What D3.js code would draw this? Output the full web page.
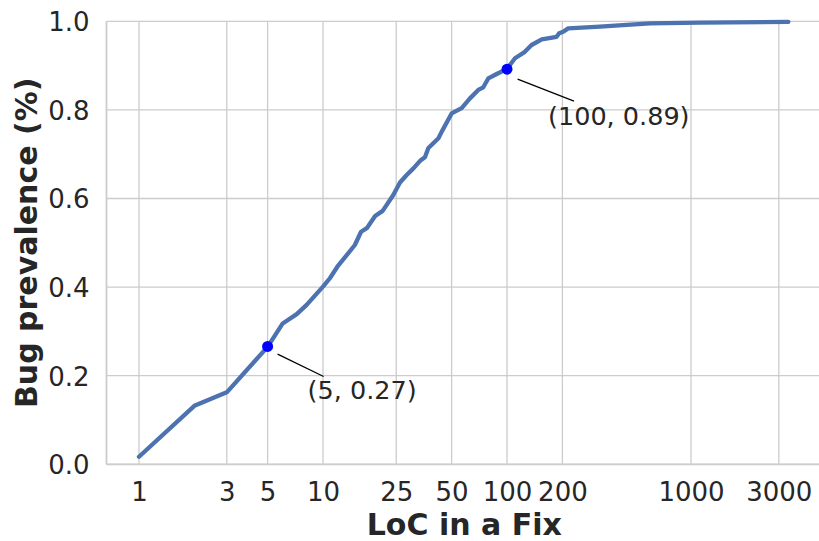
<!DOCTYPE html>
<html>
<head>
<meta charset="utf-8">
<script src="https://cdn.jsdelivr.net/npm/d3@7"></script>
<style>
  html, body { margin: 0; padding: 0; background: #ffffff; }
  svg { display: block; }
  text { font-family: "DejaVu Sans", sans-serif; fill: #262626; }
</style>
</head>
<body>
<svg id="chart" width="819" height="541"></svg>
<script>
// ---- data ----
const locValues = [1, 2, 3, 5, 6.04, 7.2, 8.15, 10, 10.9, 11.97, 14.9, 16.1, 17.3, 19.2, 21.1, 24.1, 26.2, 28.5, 31, 33.7, 35.8, 37.4, 42.4, 44.2, 50, 56.7, 62.9, 69.8, 74.3, 79.1, 87.9, 99.6, 110.5, 117.7, 125, 136, 154.5, 186, 192, 202, 215, 320, 447, 599, 1119, 3380];
const prevalence = [0.017, 0.132, 0.1625, 0.265, 0.318, 0.339, 0.36, 0.401, 0.42, 0.446, 0.495, 0.525, 0.533, 0.5605, 0.572, 0.608, 0.636, 0.653, 0.668, 0.685, 0.693, 0.714, 0.736, 0.751, 0.792, 0.804, 0.826, 0.845, 0.851, 0.871, 0.881, 0.892, 0.9165, 0.924, 0.931, 0.9465, 0.959, 0.965, 0.973, 0.9765, 0.984, 0.988, 0.992, 0.9955, 0.997, 0.9985];
const xTicks = [1, 3, 5, 10, 25, 50, 100, 200, 1000, 3000];
const yTicks = [0, 0.2, 0.4, 0.6, 0.8, 1.0];
const highlightX = [5, 100];
const highlightY = [0.266, 0.892];
const highlightLabels = ["(5, 0.27)", "(100, 0.89)"];

// ---- layout ----
const svg = d3.select("#chart");
const mLeft = 106.5, mRight = 822, mTop = 21.3, mBottom = 464.3;
const xDomain = [0.666, 5150];
const x = d3.scaleLog().domain(xDomain).range([mLeft, mRight]);
const y = d3.scaleLinear().domain([0, 1]).range([mBottom, mTop]);
const gridColor = "#cccccc";
const tickFont = 26;

// grid
const grid = svg.append("g");
grid.selectAll(".vg").data(xTicks).enter().append("line")
  .attr("x1", d => x(d)).attr("x2", d => x(d))
  .attr("y1", mTop).attr("y2", mBottom)
  .attr("stroke", gridColor).attr("stroke-width", 1.3);
grid.selectAll(".hg").data(yTicks).enter().append("line")
  .attr("x1", mLeft).attr("x2", mRight)
  .attr("y1", d => y(d)).attr("y2", d => y(d))
  .attr("stroke", gridColor).attr("stroke-width", 1.3);

// spines (left, bottom)
svg.append("line").attr("x1", mLeft).attr("x2", mLeft).attr("y1", mTop).attr("y2", mBottom)
  .attr("stroke", gridColor).attr("stroke-width", 1.8);
svg.append("line").attr("x1", mLeft).attr("x2", mRight).attr("y1", mBottom).attr("y2", mBottom)
  .attr("stroke", gridColor).attr("stroke-width", 1.8);

// axes tick labels via d3 axes
const xAxis = d3.axisBottom(x).tickValues(xTicks).tickFormat(d3.format("d")).tickSize(0).tickPadding(0);
const gx = svg.append("g").attr("transform", `translate(0,${mBottom})`).call(xAxis);
gx.select(".domain").remove();
gx.selectAll("text")
  .attr("font-family", "DejaVu Sans").attr("font-size", tickFont)
  .attr("fill", "#262626").attr("dy", null).attr("y", 36.5);

const yAxis = d3.axisLeft(y).tickValues(yTicks).tickFormat(d3.format(".1f")).tickSize(0).tickPadding(0);
const gy = svg.append("g").attr("transform", `translate(${mLeft},0)`).call(yAxis);
gy.select(".domain").remove();
gy.selectAll("text")
  .attr("font-family", "DejaVu Sans").attr("font-size", tickFont)
  .attr("fill", "#262626").attr("x", -17).attr("dy", "0.36em");

// line
const data = locValues.map((v, i) => ({ x: v, y: prevalence[i] }));
const line = d3.line().x(d => x(d.x)).y(d => y(d.y));
svg.append("path").datum(data)
  .attr("d", line)
  .attr("fill", "none")
  .attr("stroke", "#4c72b0")
  .attr("stroke-width", 4.3)
  .attr("stroke-linejoin", "round")
  .attr("stroke-linecap", "round");

// highlight points + annotations
const annOffsets = [
  { ls: [10, 7.6], le: [56, 30], t: [40, 53] },
  { ls: [10.6, 10], le: [67, 32], t: [41, 56] }
];
highlightX.forEach((hx, i) => {
  const px = x(hx), py = y(highlightY[i]);
  const o = annOffsets[i];
  svg.append("line")
    .attr("x1", px + o.ls[0]).attr("y1", py + o.ls[1])
    .attr("x2", px + o.le[0]).attr("y2", py + o.le[1])
    .attr("stroke", "#000000").attr("stroke-width", 1.3);
  svg.append("circle")
    .attr("cx", px).attr("cy", py).attr("r", 5.5)
    .attr("fill", "#0000ff");
  svg.append("text")
    .attr("x", px + o.t[0]).attr("y", py + o.t[1])
    .attr("font-size", 25.5)
    .text(highlightLabels[i]);
});

// axis labels
svg.append("text")
  .attr("x", (mLeft + mRight) / 2).attr("y", 535)
  .attr("text-anchor", "middle")
  .attr("font-size", 30).attr("font-weight", "bold")
  .text("LoC in a Fix");
svg.append("text")
  .attr("transform", `translate(37,${(mTop + mBottom) / 2}) rotate(-90)`)
  .attr("text-anchor", "middle")
  .attr("font-size", 30).attr("font-weight", "bold")
  .text("Bug prevalence (%)");
</script>
</body>
</html>
